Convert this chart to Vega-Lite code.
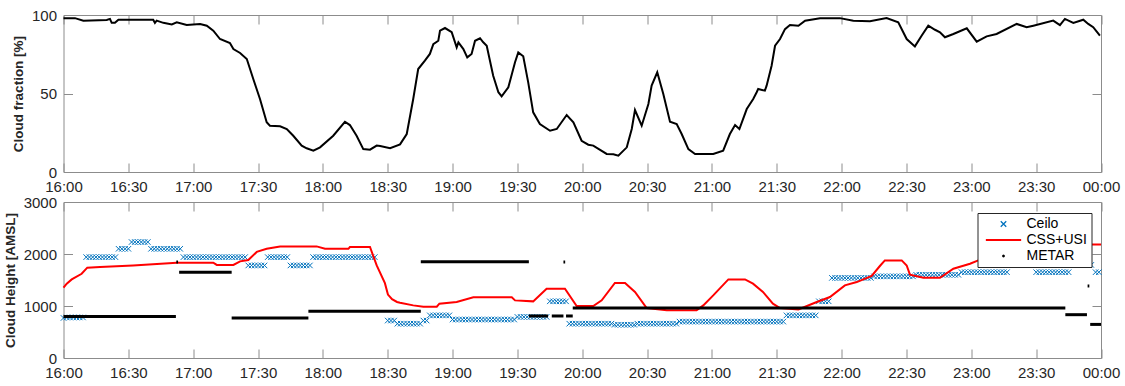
{
 "$schema": "https://vega.github.io/schema/vega-lite/v6.json",
 "autosize": {"type": "pad"},
 "padding": {"left": 2.5, "top": 7, "right": 5, "bottom": 5},
 "background": "white",
 "config": {
  "font": "Liberation Sans",
  "view": {"stroke": "#8c8c8c", "strokeWidth": 1},
  "axis": {"domain": false, "grid": false, "tickColor": "#8c8c8c", "tickSize": -9, "tickWidth": 1, "labelFlush": false,
           "labelFont": "Liberation Sans", "labelFontSize": 15, "labelColor": "#262626", "labelPadding": 16,
           "titleFont": "Liberation Sans", "titleFontSize": 13.5, "titleFontWeight": "bold", "titleColor": "#262626", "titlePadding": 6}
 },
 "datasets": {
  "frac": [
   {"t":0,"v":98},{"t":5.3,"v":98},{"t":9.2,"v":96.4},{"t":20,"v":96.8},{"t":21.5,"v":97.5},{"t":22.3,"v":95},{"t":23.8,"v":95},{"t":25.4,"v":97},{"t":41.5,"v":97},{"t":42.3,"v":95},{"t":43.1,"v":96.4},{"t":46.2,"v":95},{"t":50.1,"v":94},{"t":52.4,"v":95.3},{"t":57,"v":93.6},{"t":63.2,"v":94.3},{"t":66.3,"v":93.2},{"t":69.3,"v":90},{"t":72.4,"v":84.7},{"t":77,"v":82.2},{"t":78.6,"v":78.3},{"t":81.7,"v":75.8},{"t":84.8,"v":72},{"t":87.8,"v":59.2},{"t":90.9,"v":46.5},{"t":94,"v":31.7},{"t":95.5,"v":29.5},{"t":100.2,"v":29.1},{"t":103.3,"v":27.4},{"t":106.3,"v":23.1},{"t":110.2,"v":16.8},{"t":112.5,"v":15.1},{"t":115.6,"v":13.6},{"t":118.7,"v":15.7},{"t":124.8,"v":23.1},{"t":130.2,"v":32},{"t":132.5,"v":29.9},{"t":135.6,"v":23.1},{"t":138.7,"v":14.6},{"t":141.8,"v":14.2},{"t":144.9,"v":16.8},{"t":146.5,"v":16.5},{"t":151.1,"v":15.2},{"t":155.7,"v":17.6},{"t":158.8,"v":24.2},{"t":161.8,"v":46.5},{"t":164.1,"v":65.6},{"t":167.2,"v":70.9},{"t":169.5,"v":75.2},{"t":171.1,"v":81.5},{"t":173.4,"v":83.6},{"t":174.2,"v":90},{"t":176.5,"v":91.7},{"t":179.6,"v":89},{"t":181.9,"v":79.4},{"t":182.7,"v":82.6},{"t":185,"v":78.3},{"t":186.8,"v":73},{"t":188.8,"v":75.2},{"t":190.4,"v":83.6},{"t":192.7,"v":85.2},{"t":194.2,"v":82.6},{"t":195.8,"v":80.4},{"t":198.8,"v":61.3},{"t":201.2,"v":50.8},{"t":202.7,"v":48.2},{"t":205.8,"v":53.9},{"t":208.9,"v":69.9},{"t":210.4,"v":76.2},{"t":212.7,"v":73.7},{"t":215,"v":57.1},{"t":217.3,"v":38},{"t":220.4,"v":30.6},{"t":225.1,"v":26.3},{"t":228.2,"v":27.4},{"t":232.8,"v":36.3},{"t":235.9,"v":31.7},{"t":239.7,"v":19.9},{"t":242.8,"v":17.4},{"t":245.1,"v":16.8},{"t":251.3,"v":11.5},{"t":254.4,"v":11.3},{"t":256.7,"v":10.4},{"t":260.6,"v":15.7},{"t":262.9,"v":27.4},{"t":264.4,"v":39.5},{"t":267.5,"v":29.5},{"t":270.6,"v":43.3},{"t":272.1,"v":55},{"t":274.7,"v":63.5},{"t":277.5,"v":49.7},{"t":280.6,"v":32},{"t":283.7,"v":30.6},{"t":286,"v":24.2},{"t":289.1,"v":14.6},{"t":292.2,"v":11.5},{"t":300.6,"v":11.5},{"t":305.2,"v":13.6},{"t":308.3,"v":24.2},{"t":310.7,"v":29.9},{"t":312.7,"v":27.4},{"t":316.1,"v":40.1},{"t":319.1,"v":46.5},{"t":320.7,"v":50.8},{"t":321.4,"v":52.9},{"t":324.5,"v":51.8},{"t":325.3,"v":55},{"t":327.6,"v":67.7},{"t":329.2,"v":80.4},{"t":331.5,"v":84.7},{"t":333.8,"v":91},{"t":336.1,"v":93.6},{"t":340,"v":93.2},{"t":343.1,"v":96.4},{"t":350,"v":98},{"t":359.2,"v":98},{"t":365.4,"v":96.4},{"t":373.1,"v":96},{"t":380.8,"v":98},{"t":386.2,"v":95.3},{"t":390.1,"v":84.7},{"t":393.9,"v":80},{"t":397,"v":86.8},{"t":400.1,"v":93.2},{"t":403.2,"v":90.6},{"t":405.5,"v":89},{"t":407.8,"v":85.8},{"t":411.7,"v":87.9},{"t":417.9,"v":91.5},{"t":422.5,"v":83},{"t":427.1,"v":86.4},{"t":431.7,"v":87.9},{"t":441,"v":94.3},{"t":445.6,"v":92.2},{"t":448.7,"v":93.2},{"t":457.9,"v":96.4},{"t":461,"v":93.6},{"t":463.3,"v":97.5},{"t":467.2,"v":95},{"t":471.8,"v":97},{"t":474.1,"v":94.3},{"t":476.4,"v":92.2},{"t":479.5,"v":86.8}
  ],
  "css": [
   {"t":0,"v":1352},{"t":1.5,"v":1430},{"t":3.8,"v":1512},{"t":8.4,"v":1620},{"t":11,"v":1737},{"t":16.9,"v":1750},{"t":32.2,"v":1780},{"t":52.4,"v":1833},{"t":69.3,"v":1833},{"t":70.9,"v":1790},{"t":78.6,"v":1790},{"t":81.7,"v":1858},{"t":85.5,"v":1885},{"t":89.4,"v":2040},{"t":94,"v":2100},{"t":100.2,"v":2146},{"t":117.1,"v":2146},{"t":121,"v":2100},{"t":131.8,"v":2100},{"t":132.5,"v":2134},{"t":141.8,"v":2134},{"t":144.9,"v":1780},{"t":148.7,"v":1440},{"t":150.1,"v":1220},{"t":152,"v":1130},{"t":154.3,"v":1077},{"t":155.7,"v":1063},{"t":161.8,"v":1012},{"t":166.5,"v":987},{"t":172.7,"v":987},{"t":173.9,"v":1044},{"t":181.9,"v":1077},{"t":189.6,"v":1166},{"t":207.4,"v":1166},{"t":208.9,"v":1108},{"t":217.3,"v":1089},{"t":223.5,"v":1333},{"t":232,"v":1333},{"t":237.4,"v":1000},{"t":245.1,"v":1000},{"t":249,"v":1108},{"t":255.1,"v":1442},{"t":259.8,"v":1442},{"t":264.4,"v":1270},{"t":269.8,"v":961},{"t":279.1,"v":916},{"t":292.9,"v":916},{"t":296,"v":1012},{"t":300.6,"v":1204},{"t":307.6,"v":1512},{"t":315.3,"v":1512},{"t":319,"v":1430},{"t":323.6,"v":1270},{"t":328.2,"v":1044},{"t":331.5,"v":961},{"t":340,"v":935},{"t":348.5,"v":1077},{"t":354.6,"v":1173},{"t":361.5,"v":1396},{"t":367,"v":1460},{"t":373.9,"v":1577},{"t":377.7,"v":1769},{"t":380,"v":1877},{"t":387.8,"v":1877},{"t":390.1,"v":1780},{"t":391.6,"v":1602},{"t":397.8,"v":1544},{"t":405.5,"v":1544},{"t":411.7,"v":1717},{"t":419.4,"v":1813},{"t":423.2,"v":1877},{"t":433.3,"v":1950},{"t":451.8,"v":2080},{"t":474.5,"v":2185},{"t":480,"v":2185}
  ],
  "metar": [
   {"t0":0,"t1":52,"v":800},{"t0":52.2,"t1":53,"v":1846},{"t0":53.5,"t1":77.8,"v":1650},{"t0":77.8,"t1":113.3,"v":770},{"t0":113.3,"t1":165.3,"v":900},{"t0":165.3,"t1":215.3,"v":1850},{"t0":215.3,"t1":224.2,"v":808},{"t0":225.9,"t1":231.3,"v":808},{"t0":231.3,"t1":232.1,"v":1846},{"t0":232.5,"t1":235.6,"v":808},{"t0":235.6,"t1":463.5,"v":960},{"t0":463.5,"t1":473.5,"v":833},{"t0":473.8,"t1":474.6,"v":1385},{"t0":475,"t1":480,"v":646}
  ],
  "ceilo": [
   {"t":0,"v":770},{"t":1.5,"v":780},{"t":3,"v":780},{"t":4.5,"v":780},{"t":6,"v":780},{"t":7.5,"v":780},{"t":9,"v":780},
   {"t":10.5,"v":1940},{"t":12,"v":1940},{"t":13.5,"v":1940},{"t":15,"v":1940},{"t":16.5,"v":1940},{"t":18,"v":1940},{"t":19.5,"v":1940},{"t":21,"v":1940},{"t":22.5,"v":1940},{"t":24,"v":1940},
   {"t":25.5,"v":2100},{"t":27,"v":2100},{"t":28.5,"v":2100},{"t":30,"v":2100},
   {"t":31.5,"v":2230},{"t":33,"v":2230},{"t":34.5,"v":2230},{"t":36,"v":2230},{"t":37.5,"v":2230},{"t":39,"v":2230},
   {"t":40.5,"v":2100},{"t":42,"v":2100},{"t":43.5,"v":2100},{"t":45,"v":2100},{"t":46.5,"v":2100},{"t":48,"v":2100},{"t":49.5,"v":2100},{"t":51,"v":2100},{"t":52.5,"v":2100},{"t":54,"v":2100},
   {"t":55.5,"v":1940},{"t":57,"v":1940},{"t":58.5,"v":1940},{"t":60,"v":1940},{"t":61.5,"v":1940},{"t":63,"v":1940},{"t":64.5,"v":1940},{"t":66,"v":1940},{"t":67.5,"v":1940},{"t":69,"v":1940},{"t":70.5,"v":1940},{"t":72,"v":1940},{"t":73.5,"v":1940},{"t":75,"v":1940},{"t":76.5,"v":1940},{"t":78,"v":1940},{"t":79.5,"v":1940},{"t":81,"v":1940},{"t":82.5,"v":1940},{"t":84,"v":1940},
   {"t":85.5,"v":1780},{"t":87,"v":1780},{"t":88.5,"v":1780},{"t":90,"v":1780},{"t":91.5,"v":1780},{"t":93,"v":1780},
   {"t":94.5,"v":1940},{"t":96,"v":1940},{"t":97.5,"v":1940},{"t":99,"v":1940},{"t":100.5,"v":1940},{"t":102,"v":1940},{"t":103.5,"v":1940},
   {"t":105,"v":1780},{"t":106.5,"v":1780},{"t":108,"v":1780},{"t":109.5,"v":1780},{"t":111,"v":1780},{"t":112.5,"v":1780},{"t":114,"v":1780},
   {"t":115.5,"v":1940},{"t":117,"v":1940},{"t":118.5,"v":1940},{"t":120,"v":1940},{"t":121.5,"v":1940},{"t":123,"v":1940},{"t":124.5,"v":1940},{"t":126,"v":1940},{"t":127.5,"v":1940},{"t":129,"v":1940},{"t":130.5,"v":1940},{"t":132,"v":1940},{"t":133.5,"v":1940},{"t":135,"v":1940},{"t":136.5,"v":1940},{"t":138,"v":1940},{"t":139.5,"v":1940},{"t":141,"v":1940},{"t":142.5,"v":1940},{"t":144,"v":1940},
   {"t":150,"v":720},{"t":151.5,"v":720},{"t":153,"v":720},
   {"t":154.5,"v":660},{"t":156,"v":660},{"t":157.5,"v":660},{"t":159,"v":660},{"t":160.5,"v":660},{"t":162,"v":660},{"t":163.5,"v":660},{"t":165,"v":660},
   {"t":166.5,"v":720},{"t":168,"v":720},
   {"t":169.5,"v":820},{"t":171,"v":820},{"t":172.5,"v":820},{"t":174,"v":820},{"t":175.5,"v":820},{"t":177,"v":820},{"t":178.5,"v":820},
   {"t":180,"v":740},{"t":181.5,"v":740},{"t":183,"v":740},{"t":184.5,"v":740},{"t":186,"v":740},{"t":187.5,"v":740},{"t":189,"v":740},{"t":190.5,"v":740},{"t":192,"v":740},{"t":193.5,"v":740},{"t":195,"v":740},{"t":196.5,"v":740},{"t":198,"v":740},{"t":199.5,"v":740},{"t":201,"v":740},{"t":202.5,"v":740},{"t":204,"v":740},{"t":205.5,"v":740},{"t":207,"v":740},{"t":208.5,"v":740},
   {"t":210,"v":790},{"t":211.5,"v":790},{"t":213,"v":790},{"t":214.5,"v":790},{"t":216,"v":790},{"t":217.5,"v":790},{"t":219,"v":790},{"t":220.5,"v":790},{"t":222,"v":790},{"t":223.5,"v":790},
   {"t":225,"v":1090},{"t":226.5,"v":1090},{"t":228,"v":1090},{"t":229.5,"v":1090},{"t":231,"v":1090},{"t":232.5,"v":1090},
   {"t":234,"v":660},{"t":235.5,"v":660},{"t":237,"v":660},{"t":238.5,"v":660},{"t":240,"v":660},{"t":241.5,"v":660},{"t":243,"v":660},{"t":244.5,"v":660},{"t":246,"v":660},{"t":247.5,"v":660},{"t":249,"v":660},{"t":250.5,"v":660},{"t":252,"v":660},{"t":253.5,"v":660},
   {"t":255,"v":640},{"t":256.5,"v":640},{"t":258,"v":640},{"t":259.5,"v":640},{"t":261,"v":640},{"t":262.5,"v":640},{"t":264,"v":640},
   {"t":265.5,"v":660},{"t":267,"v":660},{"t":268.5,"v":660},{"t":270,"v":660},{"t":271.5,"v":660},{"t":273,"v":660},{"t":274.5,"v":660},{"t":276,"v":660},{"t":277.5,"v":660},{"t":279,"v":660},{"t":280.5,"v":660},{"t":282,"v":660},{"t":283.5,"v":660},
   {"t":285,"v":700},{"t":286.5,"v":700},{"t":288,"v":700},{"t":289.5,"v":700},{"t":291,"v":700},{"t":292.5,"v":700},{"t":294,"v":700},{"t":295.5,"v":700},{"t":297,"v":700},{"t":298.5,"v":700},{"t":300,"v":700},{"t":301.5,"v":700},{"t":303,"v":700},{"t":304.5,"v":700},{"t":306,"v":700},{"t":307.5,"v":700},{"t":309,"v":700},{"t":310.5,"v":700},{"t":312,"v":700},{"t":313.5,"v":700},{"t":315,"v":700},{"t":316.5,"v":700},{"t":318,"v":700},{"t":319.5,"v":700},{"t":321,"v":700},{"t":322.5,"v":700},{"t":324,"v":700},{"t":325.5,"v":700},{"t":327,"v":700},{"t":328.5,"v":700},{"t":330,"v":700},{"t":331.5,"v":700},{"t":333,"v":700},
   {"t":334.5,"v":820},{"t":336,"v":820},{"t":337.5,"v":820},{"t":339,"v":820},{"t":340.5,"v":820},{"t":342,"v":820},{"t":343.5,"v":820},{"t":345,"v":820},{"t":346.5,"v":820},{"t":348,"v":820},
   {"t":349.5,"v":1090},{"t":351,"v":1090},{"t":352.5,"v":1090},{"t":354,"v":1090},
   {"t":355.5,"v":1540},{"t":357,"v":1540},{"t":358.5,"v":1540},{"t":360,"v":1540},{"t":361.5,"v":1540},{"t":363,"v":1540},{"t":364.5,"v":1540},{"t":366,"v":1540},{"t":367.5,"v":1540},{"t":369,"v":1540},{"t":370.5,"v":1540},{"t":372,"v":1540},{"t":373.5,"v":1540},
   {"t":375,"v":1570},{"t":376.5,"v":1570},{"t":378,"v":1570},{"t":379.5,"v":1570},{"t":381,"v":1570},{"t":382.5,"v":1570},{"t":384,"v":1570},{"t":385.5,"v":1570},{"t":387,"v":1570},{"t":388.5,"v":1570},{"t":390,"v":1570},{"t":391.5,"v":1570},{"t":393,"v":1570},
   {"t":394.5,"v":1600},{"t":396,"v":1600},{"t":397.5,"v":1600},{"t":399,"v":1600},{"t":400.5,"v":1600},{"t":402,"v":1600},{"t":403.5,"v":1600},{"t":405,"v":1600},{"t":406.5,"v":1600},{"t":408,"v":1600},{"t":409.5,"v":1600},{"t":411,"v":1600},{"t":412.5,"v":1600},{"t":414,"v":1600},
   {"t":415.5,"v":1650},{"t":417,"v":1650},{"t":418.5,"v":1650},{"t":420,"v":1650},{"t":421.5,"v":1650},{"t":423,"v":1650},{"t":424.5,"v":1650},{"t":426,"v":1650},{"t":427.5,"v":1650},{"t":429,"v":1650},{"t":430.5,"v":1650},{"t":432,"v":1650},{"t":433.5,"v":1650},{"t":435,"v":1650},{"t":436.5,"v":1650},
   {"t":450,"v":1650},{"t":451.5,"v":1650},{"t":453,"v":1650},{"t":454.5,"v":1650},{"t":456,"v":1650},{"t":457.5,"v":1650},{"t":459,"v":1650},{"t":460.5,"v":1650},{"t":462,"v":1650},{"t":463.5,"v":1650},{"t":465,"v":1650},
   {"t":474,"v":1790},{"t":475.5,"v":1790},{"t":477.5,"v":1650},{"t":479,"v":1650}
  ]
 },
 "bounds": "flush",
 "spacing": 30,
 "resolve": {"scale": {"color": "independent", "shape": "independent"}, "legend": {"color": "independent", "shape": "independent"}},
 "vconcat": [
  {
   "width": 1037.5, "height": 157,
   "data": {"name": "frac"},
   "layer": [
    {"mark": {"type": "line", "color": "black", "strokeWidth": 2},
     "encoding": {
      "x": {"field": "t", "type": "quantitative", "scale": {"domain": [0, 480], "nice": false, "zero": false},
            "axis": {"orient": "bottom", "values": [0,30,60,90,120,150,180,210,240,270,300,330,360,390,420,450,480], "title": null,
                     "labelExpr": "pad((16 + floor(datum.value / 60)) % 24, 2, '0', 'left') + ':' + pad(datum.value % 60, 2, '0', 'left')"}},
      "y": {"field": "v", "type": "quantitative", "scale": {"domain": [0, 100], "nice": false},
            "axis": {"orient": "left", "values": [0, 50, 100], "format": "d", "title": "Cloud fraction [%]"}}
     }},
    {"mark": {"type": "point", "opacity": 0},
     "encoding": {
      "x": {"field": "t", "type": "quantitative", "axis": {"orient": "top", "values": [0,30,60,90,120,150,180,210,240,270,300,330,360,390,420,450,480], "labels": false, "title": null}},
      "y": {"field": "v", "type": "quantitative", "axis": {"orient": "right", "values": [0, 50, 100], "labels": false, "title": null}}
     }}
   ]
  },
  {
   "width": 1037.5, "height": 156,
   "layer": [
    {"data": {"name": "ceilo"},
     "mark": {"type": "point", "filled": false, "size": 100, "strokeWidth": 1, "opacity": 1},
     "encoding": {
      "x": {"field": "t", "type": "quantitative", "scale": {"domain": [0, 480], "nice": false, "zero": false},
            "axis": {"orient": "bottom", "values": [0,30,60,90,120,150,180,210,240,270,300,330,360,390,420,450,480], "title": null,
                     "labelExpr": "pad((16 + floor(datum.value / 60)) % 24, 2, '0', 'left') + ':' + pad(datum.value % 60, 2, '0', 'left')"}},
      "y": {"field": "v", "type": "quantitative", "scale": {"domain": [0, 3000], "nice": false},
            "axis": {"orient": "left", "values": [0, 1000, 2000, 3000], "format": "d", "title": "Cloud Height [AMSL]"}},
      "color": {"datum": "Ceilo", "type": "nominal",
                "scale": {"domain": ["Ceilo", "CSS+USI", "METAR"], "range": ["#0072BD", "#FF0000", "#000000"]},
                "legend": {"orient": "none", "legendX": 914, "legendY": 11, "title": null,
                           "fillColor": "white", "strokeColor": "#262626", "padding": 4,
                           "labelFont": "Liberation Sans", "labelFontSize": 14, "labelColor": "#000000",
                           "symbolSize": 100, "symbolOffset": 15, "labelOffset": 16, "rowPadding": 2, "symbolStrokeWidth": 1.3}},
      "shape": {"datum": "Ceilo", "type": "nominal",
                "scale": {"domain": ["Ceilo", "CSS+USI", "METAR"],
                          "range": ["M-0.55,-0.55L0.55,0.55M0.55,-0.55L-0.55,0.55", "M-3.4,-0.08L3.4,-0.08L3.4,0.08L-3.4,0.08Z", "M-0.15,0A0.15,0.15 0 1,0 0.15,0A0.15,0.15 0 1,0 -0.15,0Z"]},
                "legend": {"orient": "none", "legendX": 914, "legendY": 11, "title": null,
                           "fillColor": "white", "strokeColor": "#262626", "padding": 4,
                           "labelFont": "Liberation Sans", "labelFontSize": 14, "labelColor": "#000000",
                           "symbolSize": 100, "symbolOffset": 15, "labelOffset": 16, "rowPadding": 2, "symbolStrokeWidth": 1.3}}
     }},
    {"data": {"name": "css"},
     "mark": {"type": "line", "strokeWidth": 2},
     "encoding": {
      "x": {"field": "t", "type": "quantitative", "axis": null},
      "y": {"field": "v", "type": "quantitative", "axis": null},
      "color": {"datum": "CSS+USI", "type": "nominal"}
     }},
    {"data": {"name": "metar"},
     "mark": {"type": "rule", "strokeWidth": 3, "strokeCap": "butt"},
     "encoding": {
      "x": {"field": "t0", "type": "quantitative", "axis": null},
      "x2": {"field": "t1"},
      "y": {"field": "v", "type": "quantitative", "axis": null},
      "color": {"datum": "METAR", "type": "nominal"}
     }},
    {"data": {"name": "ceilo"},
     "mark": {"type": "point", "opacity": 0},
     "encoding": {
      "x": {"field": "t", "type": "quantitative", "axis": {"orient": "top", "values": [0,30,60,90,120,150,180,210,240,270,300,330,360,390,420,450,480], "labels": false, "title": null}},
      "y": {"field": "v", "type": "quantitative", "axis": {"orient": "right", "values": [0, 1000, 2000, 3000], "labels": false, "title": null}}
     }}
   ]
  }
 ]
}
